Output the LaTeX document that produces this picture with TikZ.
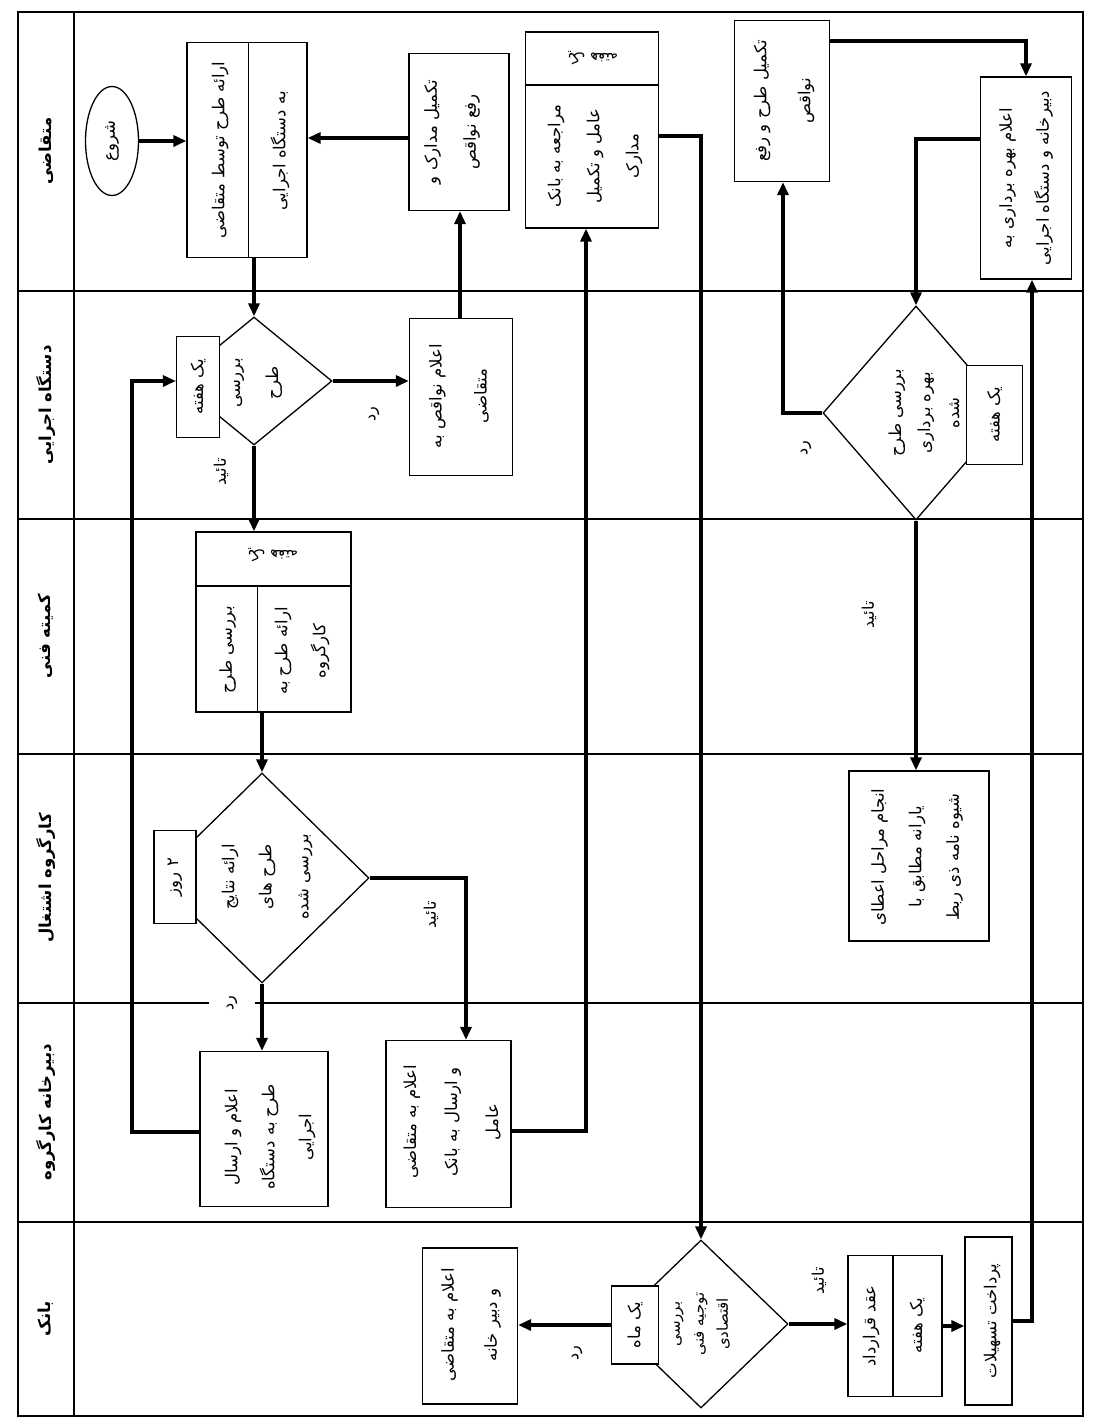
\documentclass[tikz,border=0pt]{standalone}
\usepackage{fontspec}
\newfontfamily\fafont[Script=Arabic]{DejaVu Sans}
\TeXXeTstate=1
\usetikzlibrary{shapes.geometric,arrows.meta}
\newcommand{\pf}[1]{\beginR #1\endR}
\begin{document}
\begin{tikzpicture}[x=1pt,y=-1pt,
  frame/.style={line width=1.3pt},
  box/.style={draw, line width=1.3pt, inner sep=0pt, fill=white},
  dia/.style={draw, diamond, line width=1.3pt, inner sep=0pt, fill=white},
  arr/.style={line width=3.6pt, -{Triangle[length=13pt,width=11pt]}},
  txt/.style={rotate=90, align=center, inner sep=0pt, font=\fafont\fontsize{16.5}{#1}\selectfont},
  txt/.default=38,
  stxt/.style={rotate=90, align=center, inner sep=0pt, font=\fafont\fontsize{15}{#1}\selectfont},
  stxt/.default=26,
  lbl/.style={rotate=90, inner sep=1pt, font=\fafont\fontsize{16}{18}\selectfont},
  head/.style={rotate=90, inner sep=0pt, font=\fafont\bfseries\fontsize{16.5}{18}\selectfont},
  tops/.style={rotate=180, inner sep=0pt, font=\fafont\fontsize{15}{16}\selectfont}]
\fill[white] (0,0) rectangle (1102,1428);
\useasboundingbox (0,0) rectangle (1102,1428);
\begin{scope}[shift={(11,-9)}]
% frame and lanes
\draw[frame] (7,21) rectangle (1072,1425);
\draw[frame] (63,21) -- (63,1425);
\foreach \yy in {300,528,763,1012,1231} \draw[frame] (7,\yy) -- (1072,\yy);
% headers
\node[head] (h1) at (35,160) {\pf{متقاضی}};
\node[head] (h2) at (35,414) {\pf{دستگاه اجرایی}};
\node[head] (h3) at (35,645) {\pf{کمیته فنی}};
\node[head] (h4) at (35,887) {\pf{کارگروه اشتغال}};
\node[head] (h5) at (35,1121) {\pf{دبیرخانه کارگروه}};
\node[head] (h6) at (35,1328) {\pf{بانک}};
% lane 1
\node[draw, ellipse, line width=1.3pt, minimum width=53, minimum height=109, inner sep=0pt] (st) at (101,150) {};
\node[txt] (tst) at (st) {\pf{شروع}};
\node[box, minimum width=120, minimum height=215] (b1) at (236,159) {};
\draw[line width=1.3pt] (b1.north -| 237.5,0) -- (b1.south -| 237.5,0);
\node[txt] (tb1a) at (209,159) {\pf{ارائه طرح توسط متقاضی}};
\node[txt] (tb1b) at (269,160) {\pf{به دستگاه اجرایی}};
\node[box, minimum width=100, minimum height=157] (b3) at (448,141) {};
\node[txt=39] (tb3) at (441,141) {\pf{تکمیل مدارک و}\\\pf{رفع نواقص}};
\node[box, minimum width=133, minimum height=196] (b4) at (581,139) {};
\draw[line width=1.3pt] (b4.west |- 0,94) -- (b4.east |- 0,94);
\node[tops] (tb4t) at (582,67) {\pf{یک هفته}};
\node[txt=39] (tb4) at (584,165) {\pf{مراجعه به بانک}\\\pf{عامل و تکمیل}\\\pf{مدارک}};
\node[box, minimum width=95, minimum height=161] (b5) at (771,110) {};
\node[txt=44] (tb5) at (773,110) {\pf{تکمیل طرح و رفع}\\\pf{نواقص}};
\node[box, minimum width=91, minimum height=202] (b6) at (1015,187) {};
\node[txt=37] (tb6) at (1015,187) {\pf{اعلام بهره برداری به}\\\pf{دبیرخانه و دستگاه اجرایی}};
% lane 2
\node[dia, minimum width=156, minimum height=128] (d1) at (243,390) {};
\node[txt] (td1) at (247,392) {\pf{بررسی}\\\pf{طرح}};
\node[box, minimum width=43, minimum height=101] (w1) at (187,396) {};
\node[txt] (tw1) at (w1) {\pf{یک هفته}};
\node[box, minimum width=103, minimum height=157] (b8) at (450,406) {};
\node[txt=45] (tb8) at (448,405) {\pf{اعلام نواقص به}\\\pf{متقاضی}};
\node[dia, minimum width=186, minimum height=214] (d2) at (905,422) {};
\node[txt=29] (td2) at (913,422) {\pf{بررسی طرح}\\\pf{بهره برداری}\\\pf{شده}};
\node[box, minimum width=56, minimum height=99] (w2) at (983.5,424) {};
\node[txt] (tw2) at (w2) {\pf{یک هفته}};
% lane 3
\node[box, minimum width=155, minimum height=180] (b10) at (262.5,631) {};
\draw[line width=1.3pt] (b10.west |- 0,595) -- (b10.east |- 0,595);
\draw[line width=1.3pt] (246.5,595) -- (b10.south -| 246.5,0);
\node[tops] (tb10t) at (262,564) {\pf{یک هفته}};
\node[txt] (tb10a) at (216.5,659) {\pf{بررسی طرح}};
\node[txt] (tb10b) at (291,660) {\pf{ارائه طرح به}\\\pf{کارگروه}};
% lane 4
\node[dia, minimum width=214, minimum height=210] (d4) at (251,887) {};
\node[txt=37] (td4) at (256,886) {\pf{ارائه نتایج}\\\pf{طرح های}\\\pf{بررسی شده}};
\node[box, minimum width=42, minimum height=93] (w4) at (164,886) {};
\node[txt] (tw4) at (w4) {\pf{۲ روز}};
\node[box, minimum width=140, minimum height=170] (b12) at (908,865) {};
\node[txt=37.5] (tb12) at (906,866) {\pf{انجام مراحل اعطای}\\\pf{یارانه مطابق با}\\\pf{شیوه نامه ذی ربط}};
% lane 5
\node[box, minimum width=128, minimum height=155] (b13) at (253,1138) {};
\node[txt=37] (tb13) at (259,1146) {\pf{اعلام و ارسال}\\\pf{طرح به دستگاه}\\\pf{اجرایی}};
\node[box, minimum width=125, minimum height=167] (b14) at (437.5,1133) {};
\node[txt=41] (tb14) at (441,1131) {\pf{اعلام به متقاضی}\\\pf{و ارسال به بانک}\\\pf{عامل}};
% lane 6
\node[dia, minimum width=174, minimum height=168] (d6) at (690,1333) {};
\node[stxt=24] (td6) at (691,1333) {\pf{بررسی}\\\pf{توجیه فنی}\\\pf{اقتصادی}};
\node[box, minimum width=47, minimum height=78] (m6) at (624,1334) {};
\node[txt] (tm6) at (m6) {\pf{یک ماه}};
\node[box, minimum width=95, minimum height=156] (b16) at (459,1335) {};
\node[txt=43] (tb16) at (460,1334) {\pf{اعلام به متقاضی}\\\pf{و دبیر خانه}};
\node[box, minimum width=94, minimum height=141] (b17) at (884,1335) {};
\draw[line width=1.3pt] (b17.north -| 882,0) -- (b17.south -| 882,0);
\node[txt] (tb17a) at (860,1335) {\pf{عقد قرارداد}};
\node[txt] (tb17b) at (906,1335) {\pf{یک هفته}};
\node[box, minimum width=47, minimum height=168] (b18) at (977.5,1330) {};
\node[txt] (tb18) at (981,1330) {\pf{پرداخت تسهیلات}};
% connectors
\draw[arr] (st.east) -- (st.east -| b1.west);
\draw[arr] (b3.west |- 0,147) -- (b1.east |- 0,147);
\draw[arr] (b1.south -| d1.north) -- (d1.north);
\draw[arr] (d1.east) -- (d1.east -| b8.west);
\draw[arr] (b8.north -| 449,0) -- (b3.south -| 449,0);
\draw[arr] (d1.south) -- (d1.south |- b10.north);
\draw[arr] (b10.south -| d4.north) -- (d4.north);
\draw[arr] (d4.south) -- (d4.south |- b13.north);
\draw[arr] (d4.east) -| (b14.north -| 455,0);
\draw[arr] (b14.east |- 0,1140) -| (b4.south -| 575,0);
\draw[arr] (b13.west |- 0,1141) -| (121,390) -- (w1.west |- 0,390);
\draw[arr] (b4.east |- 0,145) -| (d6.north);
\draw[arr] (m6.west) -- (m6.west -| b16.east);
\draw[arr] (d6.east) -- (d6.east -| b17.west);
\draw[arr] (b17.east) -- (b17.east -| b18.west);
\draw[arr] (b18.east |- 0,1330) -| (b6.south -| 1021,0);
\draw[arr] (b6.west |- 0,148) -| (d2.north);
\draw[arr] (d2.west) -| (b5.south -| 772,0);
\draw[arr] (b5.east |- 0,50) -| (b6.north);
\draw[arr] (d2.south) -- (d2.south |- b12.north);
% labels
\node[lbl] (l1r) at (363,423) {\pf{رد}};
\node[lbl] (l1t) at (210,481) {\pf{تائید}};
\node[lbl] (l2r) at (795,457) {\pf{رد}};
\node[lbl] (l2t) at (858,624) {\pf{تائید}};
\node[lbl, fill=white, minimum height=46] (l4r) at (221,1012) {\pf{رد}};
\node[lbl] (l4t) at (420,924) {\pf{تائید}};
\node[lbl] (l6r) at (566,1362) {\pf{رد}};
\node[lbl] (l6t) at (808,1290) {\pf{تائید}};
\end{scope}
\end{tikzpicture}
\end{document}
